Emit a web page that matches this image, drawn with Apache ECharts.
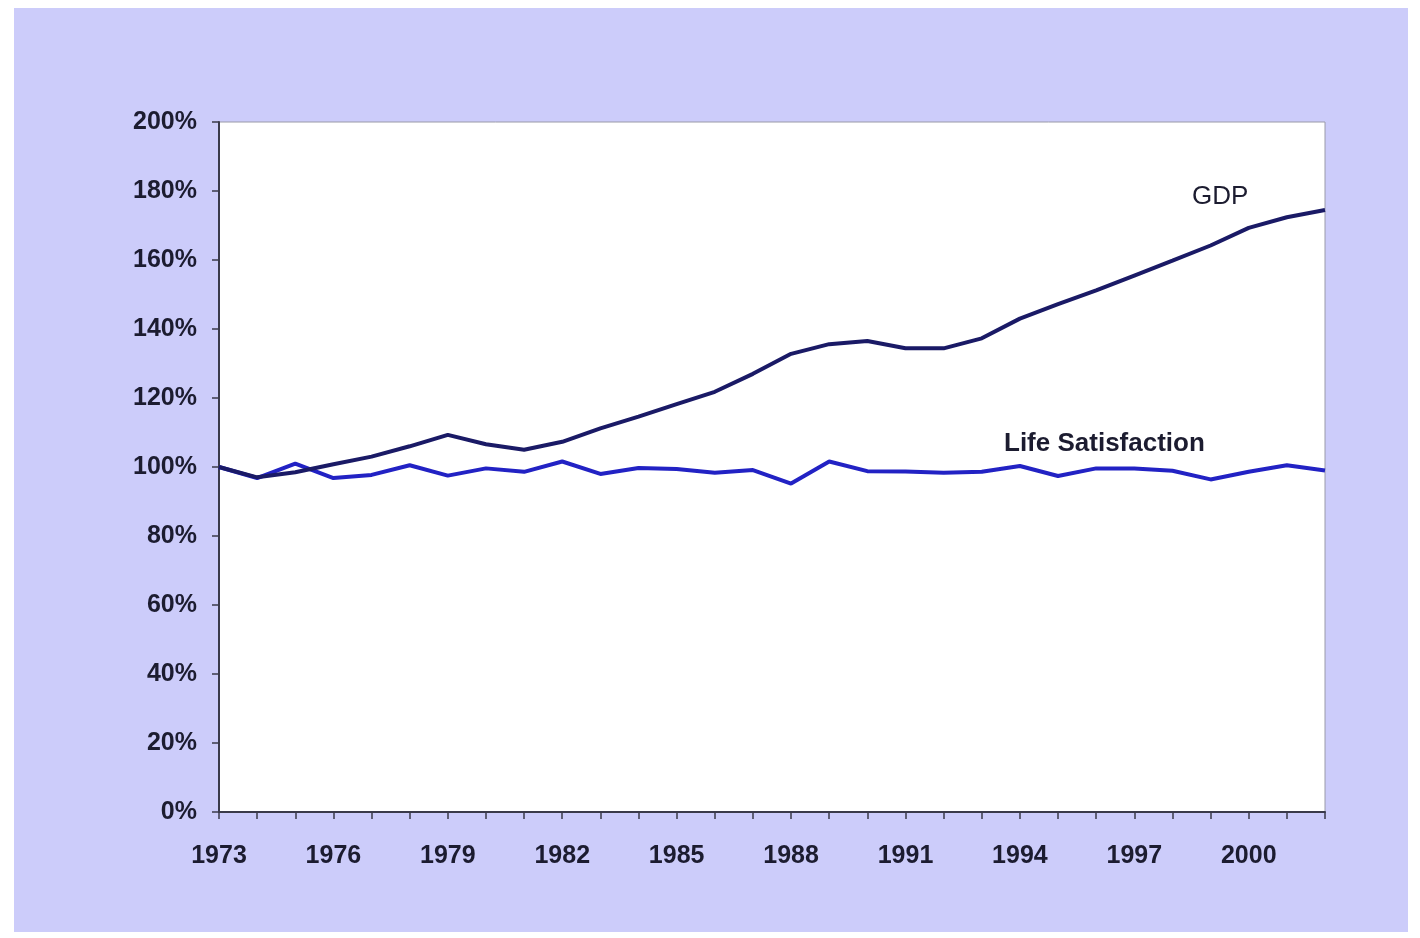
<!DOCTYPE html>
<html>
<head>
<meta charset="utf-8">
<script src="https://cdn.jsdelivr.net/npm/echarts@6/dist/echarts.min.js"></script>
<style>
html,body{margin:0;padding:0;background:#ffffff;}
#bg{position:absolute;left:14px;top:8px;width:1394px;height:924px;background:#ccccfa;}
#chart{position:absolute;left:0;top:0;width:1420px;height:938px;}
</style>
</head>
<body>
<div id="bg"></div>
<div id="chart"></div>
<script>
var years = ['1973','1974','1975','1976','1977','1978','1979','1980','1981','1982','1983','1984','1985','1986','1987','1988','1989','1990','1991','1992','1993','1994','1995','1996','1997','1998','1999','2000','2001','2002'];
var gdp = [100, 97, 98.5, 100.8, 103, 106, 109.3, 106.6, 105, 107.3, 111.2, 114.6, 118.2, 121.8, 127, 132.8, 135.6, 136.5, 134.4, 134.4, 137.3, 143, 147.2, 151.2, 155.5, 159.8, 164.2, 169.3, 172.4, 174.5];
var lifeSat = [100, 96.8, 101, 96.8, 97.7, 100.5, 97.5, 99.6, 98.6, 101.6, 98, 99.7, 99.4, 98.3, 99.1, 95.2, 101.6, 98.8, 98.7, 98.3, 98.6, 100.3, 97.4, 99.6, 99.6, 98.9, 96.4, 98.6, 100.5, 99];
var yTicks = [0, 20, 40, 60, 80, 100, 120, 140, 160, 180, 200];
var gdpLabel = 'GDP';
var lifeLabel = 'Life Satisfaction';

var chart = echarts.init(document.getElementById('chart'), null, {renderer: 'canvas'});
var font = '"Liberation Sans", Arial, sans-serif';
var txtColor = '#1c1c30';
chart.setOption({
  backgroundColor: 'transparent',
  animation: false,
  grid: {
    left: 219, right: 95, top: 122, bottom: 126,
    show: true, backgroundColor: '#ffffff', borderColor: '#9a9aa8', borderWidth: 1
  },
  xAxis: {
    type: 'category',
    data: years,
    boundaryGap: false,
    axisLine: {show: true, lineStyle: {color: '#3a3a4a', width: 2}},
    axisTick: {show: true, interval: 0, length: 7, lineStyle: {color: '#3a3a4a', width: 1.5}},
    axisLabel: {
      interval: 2, margin: 32, color: txtColor,
      fontFamily: font, fontWeight: 'bold', fontSize: 25
    },
    splitLine: {show: false}
  },
  yAxis: {
    type: 'value',
    min: yTicks[0], max: yTicks[yTicks.length - 1], interval: 20,
    axisLine: {show: true, lineStyle: {color: '#3a3a4a', width: 2}},
    axisTick: {show: true, length: 7, lineStyle: {color: '#3a3a4a', width: 1.5}},
    axisLabel: {
      margin: 22, color: txtColor, formatter: '{value}%',
      fontFamily: font, fontWeight: 'bold', fontSize: 25
    },
    splitLine: {show: false}
  },
  series: [
    {
      name: 'GDP', type: 'line', data: gdp, symbol: 'none', z: 3,
      lineStyle: {color: '#1a1a66', width: 4}
    },
    {
      name: 'Life Satisfaction', type: 'line', data: lifeSat, symbol: 'none', z: 2,
      lineStyle: {color: '#2222c4', width: 4}
    }
  ],
  graphic: [
    {type: 'text', left: 1192, top: 184, style: {text: gdpLabel, fill: txtColor, font: '26px ' + font}},
    {type: 'text', left: 1004, top: 431, style: {text: lifeLabel, fill: txtColor, font: 'bold 26px ' + font}}
  ]
});
</script>
</body>
</html>
